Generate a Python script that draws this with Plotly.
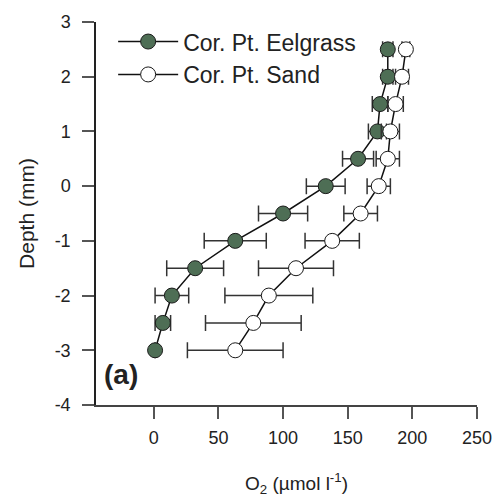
import plotly.graph_objects as go

depth = [2.5, 2, 1.5, 1, 0.5, 0, -0.5, -1, -1.5, -2, -2.5, -3]
eelgrass = [181, 181, 175, 173, 158, 133, 100, 63, 32, 14, 7, 1]
eelgrass_err = [4, 4, 6, 7, 12, 15, 19, 24, 22, 13, 6, 0]
sand = [195, 192, 187, 183, 181, 174, 160, 138, 110, 89, 77, 63]
sand_err = [3, 5, 6, 7, 9, 9, 13, 21, 29, 34, 37, 37]

x_ticks = [0, 50, 100, 150, 200, 250]
y_ticks = [3, 2, 1, 0, -1, -2, -3, -4]
y_ticktext = ["3", "2", "1", "0", "-1", "-2", "-3", "-4"]

font_family = "Arial, Liberation Sans, sans-serif"
ink = "#222222"

fig = go.Figure()
fig.add_trace(go.Scatter(
    x=eelgrass, y=depth, mode="lines+markers", name="Cor. Pt. Eelgrass",
    line=dict(color="#111111", width=1.5),
    marker=dict(size=15, color="#4e6e55", line=dict(color="#1a1a1a", width=1)),
    error_x=dict(type="data", array=eelgrass_err, visible=True,
                 color="#333333", thickness=1.5, width=8),
))
fig.add_trace(go.Scatter(
    x=sand, y=depth, mode="lines+markers", name="Cor. Pt. Sand",
    line=dict(color="#111111", width=1.5),
    marker=dict(size=15, color="white", line=dict(color="#1a1a1a", width=1)),
    error_x=dict(type="data", array=sand_err, visible=True,
                 color="#333333", thickness=1.5, width=8),
))

fig.add_annotation(x=0.015, y=0.08, xref="paper", yref="paper",
                   text="<b>(a)</b>", showarrow=False, xanchor="left", yanchor="middle",
                   font=dict(size=28, color=ink, family=font_family))

fig.add_annotation(x=0.525, y=-0.205, xref="paper", yref="paper",
                   text="O<sub>2</sub> (µmol l<sup>-1</sup>)", showarrow=False,
                   xanchor="center", yanchor="middle",
                   font=dict(size=19, color=ink, family=font_family))

fig.update_layout(
    width=504, height=503,
    margin=dict(l=96, r=20, t=15, b=98),
    paper_bgcolor="white", plot_bgcolor="white",
    font=dict(family=font_family, color=ink),
    showlegend=True,
    legend=dict(x=0.045, y=1.005, xanchor="left", yanchor="top",
                bgcolor="rgba(0,0,0,0)", font=dict(size=23, color=ink),
                itemwidth=60, tracegroupgap=0),
    xaxis=dict(range=[-44.7, 250], tickvals=x_ticks, showgrid=False, zeroline=False,
               showline=True, linecolor="#444444", linewidth=1.5,
               ticks="outside", ticklen=12, tickcolor="#555555", tickwidth=1.5,
               tickfont=dict(size=18, color=ink), ticklabelstandoff=4,
               ticklabeloverflow="allow"),
    yaxis=dict(range=[-4, 3], tickvals=y_ticks, ticktext=y_ticktext,
               showgrid=False, zeroline=False,
               showline=True, linecolor="#222222", linewidth=1.5,
               ticks="outside", ticklen=12, tickcolor="#555555", tickwidth=1.5,
               tickfont=dict(size=18, color=ink), ticklabelstandoff=8,
               title=dict(text="Depth (mm)", font=dict(size=21, color=ink), standoff=14)),
)

fig.write_html("out.html")
